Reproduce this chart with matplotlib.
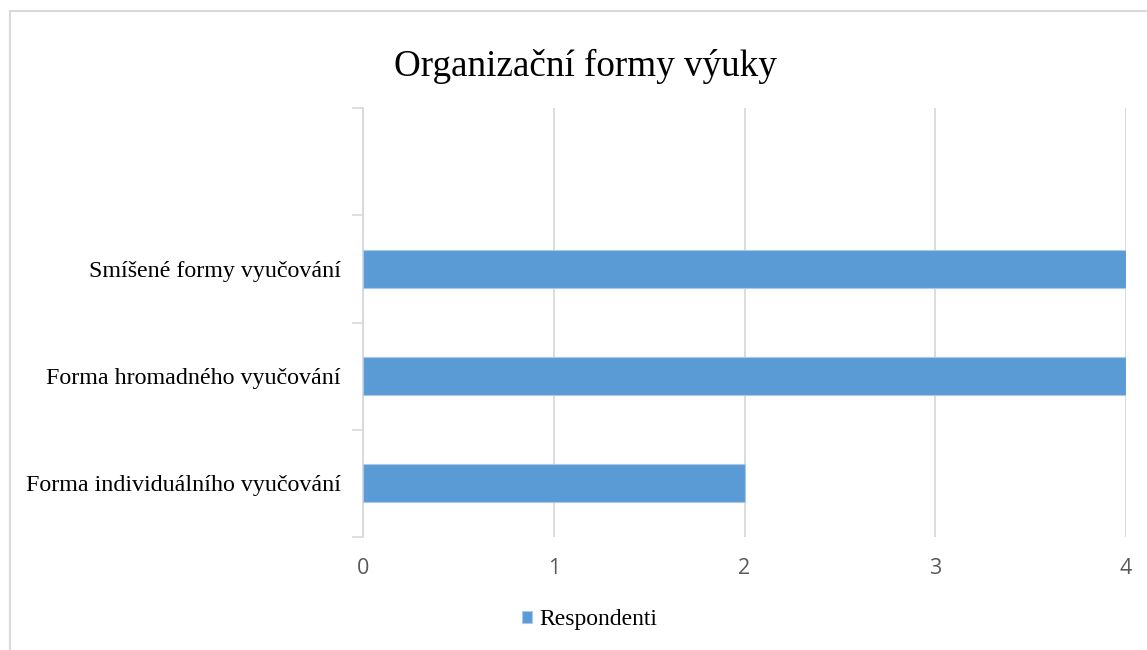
import numpy as np
import matplotlib
matplotlib.use("Agg")
import matplotlib.pyplot as plt
from matplotlib.lines import Line2D

# data (bottom to top, as drawn)
categories = ["Forma individuálního vyučování",
              "Forma hromadného vyučování",
              "Smíšené formy vyučování",
              ""]
respondenti = [2, 4, 4, 0]
x_ticks = [0, 1, 2, 3, 4]

BLUE = "#5B9BD5"
GRID = "#D9D9D9"
SERIF = ["Liberation Serif", "DejaVu Serif"]

fig = plt.figure(figsize=(11.47, 6.5), dpi=100)
ax = fig.add_axes([363 / 1147, 1 - 537 / 650, (1126 - 363) / 1147, (537 - 108) / 650])

y = np.arange(len(categories))
ax.barh(y, respondenti, height=0.355, color=BLUE, edgecolor="#A9C8EA",
        linewidth=[0.8 if v else 0 for v in respondenti],
        label="Respondenti", zorder=3)

ax.set_xlim(0, 4)
ax.set_ylim(-0.5, len(categories) - 0.5)
ax.set_xticks(x_ticks)
ax.set_xticklabels([str(t) for t in x_ticks], fontsize=15.5, color="#595959",
                   family=["Open Sans", "DejaVu Sans"])
ax.tick_params(axis="x", length=0, pad=15)

# category ticks sit between the bars (Excel style)
ax.set_yticks(np.arange(len(categories) + 1) - 0.5)
ax.set_yticklabels([])
ax.set_yticks(y, minor=True)
ax.set_yticklabels(categories, minor=True, fontsize=17.3, family=SERIF)
ax.tick_params(axis="y", which="major", length=8, color=GRID, width=1.2)
ax.tick_params(axis="y", which="minor", length=0, pad=16)

ax.grid(axis="x", color=GRID, linewidth=1.3, zorder=0)
for side in ("top", "right", "bottom"):
    ax.spines[side].set_visible(False)
ax.spines["left"].set_color(GRID)
ax.spines["left"].set_linewidth(1.3)

fig.text(585 / 1147, 1 - 66 / 650, "Organizační formy výuky", ha="center",
         va="center", fontsize=26.7, family=SERIF)

leg = fig.legend(loc="center", bbox_to_anchor=(590 / 1147, 1 - 620 / 650),
                 frameon=False, prop={"family": SERIF, "size": 17},
                 handlelength=0.4, handleheight=0.4, handletextpad=0.35)

# outer chart frame (cropped on right and bottom)
fig.add_artist(Line2D([9.5 / 1147, 9.5 / 1147], [0, 1 - 11 / 650],
                      transform=fig.transFigure, color=GRID, linewidth=1.5))
fig.add_artist(Line2D([9.5 / 1147, 1], [1 - 11 / 650, 1 - 11 / 650],
                      transform=fig.transFigure, color=GRID, linewidth=1.5))

fig.savefig("out.png", dpi=100, facecolor="white")
